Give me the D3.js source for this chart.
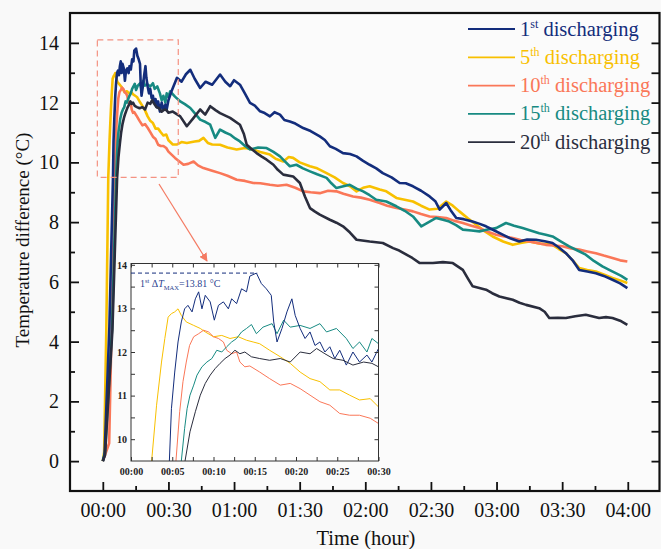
<!DOCTYPE html>
<html>
<head>
<meta charset="utf-8">
<script src="https://cdn.jsdelivr.net/npm/d3@7"></script>
<style>
  body { margin: 0; background: #f9f9f9; }
  svg { display: block; }
  svg text { font-family: "Liberation Serif", "Times New Roman", serif !important; }
</style>
</head>
<body>
<svg id="chart" width="661" height="549"></svg>
<script>
// time in minutes, temperature difference in °C
var first = [[0,0],[0.8,0.2],[3.0,4.5],[4.65,9.5],[4.9,10.7],[5.3,11.54],[5.7,12.23],[6.1,12.69],[6.5,12.99],[6.9,13.07],[7.4,12.92],[7.8,13.22],[8.2,13.38],[8.6,12.99],[9.0,13.3],[9.6,13.15],[10.1,12.73],[10.6,13.07],[11.2,13.15],[11.8,12.99],[12.2,13.22],[12.8,13.11],[13.4,13.45],[14.0,13.38],[14.4,13.74],[15.2,13.81],[15.8,13.57],[16.4,13.45],[17.0,13.3],[17.3,12.69],[17.7,12.23],[18.3,12.54],[18.9,12.92],[19.5,13.22],[19.9,12.84],[20.5,12.54],[21.1,12.31],[21.7,12.46],[22.3,12.15],[22.9,12.23],[23.5,12.0],[24.1,12.12],[24.7,11.85],[25.3,12.04],[26.1,11.7],[26.9,12.0],[27.7,11.77],[28.6,11.93],[29.2,11.77],[30.0,12.08],[31.5,12.4],[33.9,12.83],[36,12.7],[38,12.95],[40,13.1],[42,12.8],[44.5,12.49],[47,12.7],[50,12.6],[53.6,12.94],[56,12.7],[58.2,12.55],[60,12.75],[62.7,12.6],[65,12.3],[67.3,11.99],[69.5,11.9],[71.9,11.71],[74,11.65],[76.4,11.54],[78.5,11.68],[81,11.6],[83,11.42],[85.5,11.37],[88,11.3],[91.6,11.15],[95,11.05],[99.2,10.87],[101.5,10.75],[103.8,10.54],[106.5,10.45],[109.8,10.31],[113,10.28],[116,10.2],[119,10.05],[122,9.92],[125,9.8],[128,9.64],[132,9.5],[135.7,9.31],[138.5,9.3],[141.8,9.2],[145.5,9.05],[149.4,8.86],[152,8.7],[154,8.42],[157,8.64],[159,8.4],[161.6,8.14],[165,8.1],[169,8.02],[172,7.95],[175.2,7.86],[179,7.72],[182.8,7.58],[186.5,7.45],[190.4,7.35],[194,7.42],[198,7.41],[202,7.36],[205.6,7.3],[208.5,7.15],[211.7,6.96],[215,6.7],[217.8,6.4],[221.5,6.35],[225.4,6.29],[229,6.2],[233,6.07],[236.5,5.95],[239.8,5.79]];

var fifth = [[0,0],[0.6,0.3],[1.6,4.4],[2.5,9.5],[3.1,10.78],[3.7,11.77],[4.1,12.31],[4.5,12.8],[4.9,12.88],[5.3,12.92],[5.7,12.99],[6.1,12.84],[6.7,12.69],[7.6,12.61],[8.4,12.54],[9.0,12.46],[10.0,12.35],[11.0,12.38],[12.0,12.31],[13.0,12.35],[14.0,12.27],[14.8,12.23],[15.6,12.19],[16.8,12.04],[18.1,11.89],[19.3,11.74],[20.5,11.54],[21.7,11.39],[22.9,11.32],[24.1,11.13],[25.3,11.13],[26.5,11.01],[27.7,10.9],[29.0,10.93],[30.0,10.74],[32,10.6],[34,10.6],[36,10.68],[38.4,10.65],[42,10.7],[44,10.72],[46,10.82],[48,10.65],[50,10.6],[53.6,10.59],[57,10.5],[61.2,10.43],[65,10.48],[68.8,10.43],[72,10.35],[76.4,10.26],[79,10.12],[82.5,10.03],[85,10.18],[87,10.15],[90,10.0],[94.7,9.87],[98,9.8],[102.3,9.64],[106,9.5],[109.8,9.31],[113,9.2],[116,9.03],[119,9.15],[122,9.2],[126.6,9.09],[129.6,9.03],[134.2,8.81],[138,8.75],[141.8,8.69],[145.5,8.55],[149.4,8.42],[153,8.45],[157,8.69],[160,8.55],[163,8.36],[167,8.12],[170.7,7.91],[174.5,7.7],[178.2,7.52],[183,7.35],[187.4,7.24],[191,7.3],[195,7.35],[200,7.28],[205.6,7.24],[208.5,7.1],[211.7,6.96],[215,6.7],[217.8,6.46],[221.5,6.4],[225.4,6.35],[229,6.25],[233,6.13],[236.5,6.05],[239.8,5.96]];

var tenth = [[0,0],[1.0,0.2],[2.9,0.6],[4.0,4.4],[5.45,9.5],[5.9,10.63],[6.3,11.32],[6.7,11.77],[7.1,12.15],[7.6,12.35],[8.2,12.42],[8.8,12.5],[9.4,12.46],[10.0,12.35],[10.6,12.31],[11.2,12.23],[11.6,12.04],[12.2,11.96],[12.8,12.0],[13.2,11.77],[13.8,11.66],[14.4,11.68],[15.6,11.54],[16.8,11.39],[18.1,11.24],[19.3,11.28],[20.5,11.16],[21.7,11.01],[22.9,10.86],[24.1,10.78],[25.3,10.59],[26.5,10.55],[27.7,10.55],[29.0,10.48],[30.0,10.36],[33,10.15],[36.9,9.92],[39,9.95],[41.5,10.03],[43.5,9.9],[46,9.81],[50,9.72],[53.6,9.64],[57,9.55],[61.2,9.42],[65,9.38],[68.8,9.31],[72,9.3],[76.4,9.25],[80,9.22],[84,9.25],[88,9.15],[91.6,9.03],[95,9.0],[99.2,8.97],[103,9.05],[106.8,9.03],[110,8.95],[114.4,8.86],[118,8.82],[122,8.75],[126.6,8.64],[130,8.55],[134.2,8.47],[138,8.42],[141.8,8.36],[145.5,8.27],[149.4,8.19],[153,8.17],[157,8.14],[160.5,8.05],[164.6,7.97],[168.5,7.88],[172.2,7.8],[176,7.68],[179.8,7.58],[183.5,7.52],[187.4,7.47],[191,7.4],[195,7.35],[198.5,7.3],[202.5,7.24],[206,7.22],[210.1,7.19],[214,7.12],[217.8,7.08],[221.5,7.02],[225.4,6.96],[229,6.88],[233,6.8],[236.5,6.72],[239.8,6.68]];

var fifteenth = [[0,0],[1.0,0.3],[4.2,4.4],[6.1,9.5],[6.5,10.25],[6.8,10.7],[7.15,11.01],[7.6,11.24],[8.0,11.47],[8.6,11.66],[9.2,11.77],[9.8,11.85],[10.4,12.04],[11.0,12.0],[11.6,12.12],[12.2,12.23],[12.8,12.31],[13.4,12.46],[14.0,12.54],[14.6,12.63],[15.2,12.42],[16.0,12.57],[17.1,12.65],[17.7,12.42],[18.5,12.73],[19.3,12.57],[20.5,12.61],[21.7,12.54],[22.9,12.65],[23.7,12.46],[24.9,12.54],[26.1,12.31],[26.9,12.08],[27.7,12.23],[28.6,12.0],[29.2,12.31],[30.0,12.19],[30.8,12.38],[33,12.2],[35.4,12.04],[37.5,11.95],[40,11.82],[42,11.65],[44.5,11.43],[47,11.35],[49.1,11.26],[51.4,10.82],[53.6,11.1],[56,11.0],[58.2,10.93],[60.5,10.8],[62.7,10.7],[65,10.55],[67.3,10.43],[71,10.5],[74.9,10.48],[78,10.35],[81,10.2],[83,10.05],[85.5,9.87],[88.5,9.92],[91.5,9.8],[94.7,9.7],[98,9.6],[102.3,9.48],[104.5,9.3],[106.8,9.14],[110,9.2],[112.9,9.25],[116,9.12],[119,9.03],[122,8.9],[125,8.75],[129.6,8.69],[134.2,8.53],[138,8.38],[141.8,8.19],[145.6,7.86],[149,8.0],[152.4,8.14],[155.5,8.08],[158.4,8.02],[161.5,7.9],[164.6,7.75],[168.5,7.72],[172.2,7.69],[176,7.75],[179.8,7.8],[184.3,7.97],[188,7.88],[191.9,7.8],[195.5,7.72],[199.5,7.63],[202.5,7.58],[205.6,7.52],[209.5,7.35],[213.2,7.19],[217,7.05],[220.8,6.91],[224.5,6.7],[228.4,6.52],[231.5,6.4],[234.5,6.29],[237,6.2],[239.8,6.07]];

var twentieth = [[0,0],[1.0,0.2],[4.4,4.4],[6.55,9.5],[7.15,10.17],[7.8,10.63],[8.4,11.01],[9.0,11.28],[9.6,11.47],[10.2,11.62],[10.8,11.74],[11.4,11.85],[12.0,11.93],[12.6,12.04],[13.2,11.96],[13.8,12.0],[14.6,11.89],[15.6,11.85],[16.8,11.81],[18.1,11.85],[19.3,11.77],[20.5,12.0],[21.7,11.96],[22.5,12.08],[23.5,11.96],[24.5,11.85],[25.7,11.81],[26.9,11.7],[28.2,11.77],[29.2,11.74],[30.0,11.66],[32,11.7],[35.4,11.54],[38.4,11.21],[41.5,11.49],[44.5,11.77],[46.8,11.6],[49.1,11.88],[51.5,11.75],[53.6,11.65],[58.2,11.49],[62.7,11.26],[64.5,10.95],[65.8,10.59],[68,10.45],[70.3,10.31],[72.5,10.2],[74.9,10.09],[78,9.92],[80,9.75],[82.5,9.59],[87,9.53],[90.1,9.31],[92.4,8.86],[94.7,8.47],[97,8.35],[99.2,8.25],[103.8,8.08],[106.8,7.98],[109.8,7.86],[113,7.65],[116,7.41],[122,7.35],[128,7.3],[132.7,7.13],[135.5,7.05],[138.8,6.91],[141.5,6.8],[144.9,6.63],[150.9,6.63],[155.5,6.66],[160,6.63],[164.6,6.4],[167,6.1],[169.1,5.85],[175.2,5.74],[178,5.62],[181.3,5.51],[187.4,5.4],[190.5,5.3],[193.5,5.23],[199.5,5.12],[202,5.0],[204.1,4.79],[208,4.8],[211.7,4.79],[216,4.85],[220.8,4.9],[226.9,4.79],[230,4.82],[233,4.79],[236.5,4.7],[239.8,4.56]];

var seriesNames = [['1','st'],['5','th'],['10','th'],['15','th'],['20','th']];
var seriesColors = ['#132d7c','#f8c000','#fa7758','#178a82','#2a2d3d'];
var seriesData = [first, fifth, tenth, fifteenth, twentieth];
var drawOrder = [1, 2, 3, 0, 4];

var xTicks = [0,30,60,90,120,150,180,210,240];
var yTicks = [0,2,4,6,8,10,12,14];
var insetXTicks = [0,5,10,15,20,25,30];
var insetYTicks = [10,11,12,13,14];
var maxValue = 13.81;

var svg = d3.select('#chart');
var fmt = function(m){ return d3.format('02d')(Math.floor(m/60)) + ':' + d3.format('02d')(m%60); };

var x = d3.scaleLinear().domain([-15, 254.5]).range([70, 659.5]);
var y = d3.scaleLinear().domain([-1, 15]).range([491, 13]);

svg.append('rect').attr('x',70).attr('y',13).attr('width',589.5).attr('height',478).attr('fill','#fbfbfb');

svg.append('clipPath').attr('id','mainClip')
    .append('rect').attr('x',70).attr('y',13).attr('width',589.5).attr('height',478);

var line = d3.line().x(d => x(d[0])).y(d => y(d[1]));

svg.append('g').attr('clip-path','url(#mainClip)')
    .selectAll('.series')
    .data(drawOrder)
    .join('path')
    .attr('class','series')
    .attr('d', i => line(seriesData[i]))
    .attr('fill','none')
    .attr('stroke', i => seriesColors[i])
    .attr('stroke-width',2.6)
    .attr('stroke-linejoin','round');

// axes, ticks point inward
var axisFont = function(g, size){
    g.select('.domain').remove();
    g.selectAll('text').style('font-size', size).attr('fill','#111');
    g.selectAll('line').attr('stroke','#111').attr('stroke-width',1.8);
};

svg.append('g').attr('transform','translate(0,491)')
    .call(d3.axisBottom(x).tickValues(xTicks).tickFormat(fmt).tickSize(-9).tickPadding(12))
    .call(g => axisFont(g,'20px'));
svg.append('g').attr('transform','translate(0,491)')
    .call(d3.axisBottom(x).tickValues(d3.range(15,240,30)).tickFormat('').tickSize(-5))
    .call(g => axisFont(g,'20px'));
svg.append('g').attr('transform','translate(70,0)')
    .call(d3.axisLeft(y).tickValues(yTicks).tickSize(-9).tickPadding(11))
    .call(g => axisFont(g,'20px'));
svg.append('g').attr('transform','translate(70,0)')
    .call(d3.axisLeft(y).tickValues(d3.range(1,15,2)).tickFormat('').tickSize(-5))
    .call(g => axisFont(g,'20px'));
svg.append('g').attr('transform','translate(659.5,0)')
    .call(d3.axisRight(y).tickValues(d3.range(0,15,1)).tickFormat('').tickSize(-8))
    .call(g => axisFont(g,'20px'));

svg.append('rect').attr('x',70).attr('y',13).attr('width',589.5).attr('height',478)
    .attr('fill','none').attr('stroke','#111').attr('stroke-width',2.2);

svg.append('text').attr('x',366).attr('y',545).attr('text-anchor','middle')
    .style('font-size','20.5px').attr('fill','#111').text('Time (hour)');
svg.append('text').attr('transform','translate(29,240) rotate(-90)').attr('text-anchor','middle')
    .style('font-size','19px').attr('fill','#111').text('Temperature difference (°C)');

// legend
var legend = svg.append('g');
seriesNames.forEach(function(n, i){
    var ly = 29 + i*28.3;
    legend.append('line').attr('x1',468).attr('x2',515).attr('y1',ly).attr('y2',ly)
        .attr('stroke',seriesColors[i]).attr('stroke-width',1.8);
    var t = legend.append('text').attr('x',520).attr('y',ly+6.5)
        .style('font-size','20.5px').attr('fill',seriesColors[i]);
    t.append('tspan').text(n[0]);
    t.append('tspan').attr('dy',-8).style('font-size','12px').text(n[1]);
    t.append('tspan').attr('dy',8).text(' discharging');
});

// zoom box and arrow
svg.append('rect').attr('x',x(-2.5)).attr('y',y(14.1)).attr('width',x(34.5)-x(-2.5)).attr('height',y(9.5)-y(14.1))
    .attr('fill','none').attr('stroke','#f49282').attr('stroke-width',1.2).attr('stroke-dasharray','6,4');
svg.append('defs').append('marker').attr('id','arrow').attr('viewBox','0 0 10 10')
    .attr('refX',9).attr('refY',5).attr('markerWidth',7).attr('markerHeight',7).attr('orient','auto')
    .append('path').attr('d','M0,0 L10,5 L0,10 z').attr('fill','#f47a62');
svg.append('line').attr('x1',159).attr('y1',184).attr('x2',207).attr('y2',261)
    .attr('stroke','#f47a62').attr('stroke-width',1.2).attr('marker-end','url(#arrow)');

// inset
var ix = d3.scaleLinear().domain([0, 30]).range([131, 378.5]);
var iy = d3.scaleLinear().domain([9.5, 14.03]).range([461, 263.5]);
var inset = svg.append('g');
inset.append('rect').attr('x',131).attr('y',263.5).attr('width',247.5).attr('height',197.5).attr('fill','#ffffff');
svg.append('clipPath').attr('id','insetClip')
    .append('rect').attr('x',131).attr('y',263.5).attr('width',247.5).attr('height',197.5);

var iline = d3.line().x(d => ix(d[0])).y(d => iy(d[1]));
inset.append('g').attr('clip-path','url(#insetClip)')
    .selectAll('.iseries')
    .data(drawOrder)
    .join('path')
    .attr('class','iseries')
    .attr('d', i => iline(seriesData[i].filter(d => d[0] <= 31)))
    .attr('fill','none')
    .attr('stroke', i => seriesColors[i])
    .attr('stroke-width',1)
    .attr('stroke-linejoin','round');

var insetAxis = function(g){
    g.select('.domain').remove();
    g.selectAll('text').style('font-size','10px').style('font-weight','bold').attr('fill','#222');
    g.selectAll('line').attr('stroke','#333').attr('stroke-width',1);
};
inset.append('g').attr('transform','translate(0,461)')
    .call(d3.axisBottom(ix).tickValues(d3.range(0,30.1,2.5)).tickFormat(d => insetXTicks.includes(d) ? fmt(d) : '').tickSize(-4).tickPadding(7))
    .call(insetAxis);
inset.append('g').attr('transform','translate(0,263.5)')
    .call(d3.axisTop(ix).tickValues(d3.range(0,30.1,2.5)).tickFormat('').tickSize(-4))
    .call(insetAxis);
inset.append('g').attr('transform','translate(131,0)')
    .call(d3.axisLeft(iy).tickValues(d3.range(10,14.1,0.5)).tickFormat(d => insetYTicks.includes(d) ? d : '').tickSize(-4).tickPadding(4))
    .call(insetAxis);
inset.append('g').attr('transform','translate(378.5,0)')
    .call(d3.axisRight(iy).tickValues(d3.range(10,14.1,0.5)).tickFormat('').tickSize(-4))
    .call(insetAxis);
inset.append('rect').attr('x',131).attr('y',263.5).attr('width',247.5).attr('height',197.5)
    .attr('fill','none').attr('stroke','#333').attr('stroke-width',1);

inset.append('line').attr('x1',ix(0)).attr('x2',ix(15.3)).attr('y1',iy(maxValue)).attr('y2',iy(maxValue))
    .attr('stroke','#132d7c').attr('stroke-width',1).attr('stroke-dasharray','4,3');
var note = inset.append('text').attr('x',140).attr('y',287).style('font-size','10px').attr('fill','#2a3f8f');
note.append('tspan').text('1');
note.append('tspan').attr('dy',-4).style('font-size','6.5px').text('st');
note.append('tspan').attr('dy',4).text(' \u0394');
note.append('tspan').style('font-style','italic').text('T');
note.append('tspan').attr('dy',3).style('font-size','6.5px').text('MAX');
note.append('tspan').attr('dy',-3).text('=' + maxValue + ' \u00b0C');
</script>
</body>
</html>
